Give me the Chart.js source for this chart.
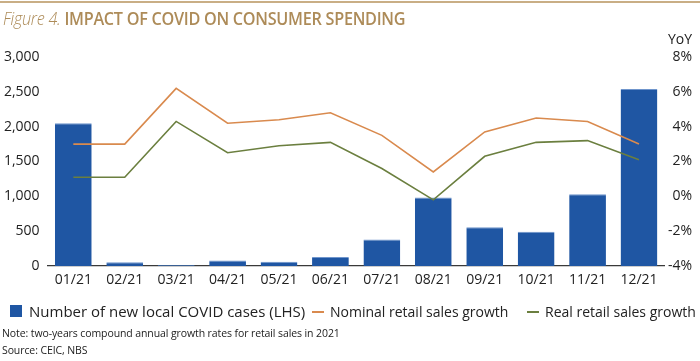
<!DOCTYPE html>
<html>
<head>
<meta charset="utf-8">
<script src="https://cdn.jsdelivr.net/npm/chart.js@4.4.1/dist/chart.umd.min.js"></script>
<style>
  html,body{margin:0;padding:0;background:#fff;}
  #wrap{position:relative;width:700px;height:361px;overflow:hidden;font-family:"Open Sans",sans-serif;color:#222;}
  #topline{position:absolute;left:0;top:1px;width:700px;height:2px;background:#c9ae85;}
  #title{position:absolute;left:3px;top:6px;font-size:18px;color:#ad8b58;white-space:nowrap;letter-spacing:-0.3px;transform:scaleX(0.9);transform-origin:0 0;}
  #title i{font-weight:300;}
  #title b{font-weight:600;}
  #yoy{position:absolute;right:8px;top:29px;font-size:14px;}
  canvas{position:absolute;left:0;top:0;}
  .leg{position:absolute;top:302px;font-size:14px;white-space:nowrap;}
  .sw{position:absolute;}
  .note{position:absolute;left:2px;font-size:10.5px;white-space:nowrap;letter-spacing:-0.1px;}
</style>
</head>
<body>
<div id="wrap">
  <canvas id="c" width="700" height="361"></canvas>
  <div id="topline"></div>
  <div id="title"><i>Figure 4.</i> <b>IMPACT OF COVID ON CONSUMER SPENDING</b></div>
  <div id="yoy">YoY</div>
  <div class="sw" style="left:10px;top:305px;width:12px;height:12px;background:#1f56a3;"></div>
  <div class="leg" style="left:29px;top:301px;font-size:15px;">Number of new local COVID cases (LHS)</div>
  <div class="sw" style="left:312px;top:311px;width:12px;height:2px;background:#d98a4e;"></div>
  <div class="leg" style="left:330px;">Nominal retail sales growth</div>
  <div class="sw" style="left:527px;top:311px;width:12px;height:2px;background:#6b7f3f;"></div>
  <div class="leg" style="left:545px;">Real retail sales growth</div>
  <div class="note" style="top:326px;">Note: two-years compound annual growth rates for retail sales in 2021</div>
  <div class="note" style="top:343px;">Source: CEIC, NBS</div>
</div>
<script>
const categories = ["01/21","02/21","03/21","04/21","05/21","06/21","07/21","08/21","09/21","10/21","11/21","12/21"];
const covidCases = [2050, 55, 15, 80, 60, 130, 380, 985, 555, 490, 1030, 2540];
const nominalGrowth = [3.0, 3.0, 6.2, 4.2, 4.4, 4.8, 3.5, 1.4, 3.7, 4.5, 4.3, 3.0];
const realGrowth = [1.1, 1.1, 4.3, 2.5, 2.9, 3.1, 1.6, -0.2, 2.3, 3.1, 3.2, 2.1];
const leftTicks = [0, 500, 1000, 1500, 2000, 2500, 3000];
const rightTicks = [-4, -2, 0, 2, 4, 6, 8];

const tickFont = {family: "Open Sans", size: 14};
new Chart(document.getElementById('c'), {
  data: {
    labels: categories,
    datasets: [
      {type:'line', label:'Nominal retail sales growth', data: nominalGrowth, yAxisID:'y1',
       borderColor:'#d98a4e', borderWidth:1.6, pointRadius:0, tension:0, order:1},
      {type:'line', label:'Real retail sales growth', data: realGrowth, yAxisID:'y1',
       borderColor:'#6b7f3f', borderWidth:1.6, pointRadius:0, tension:0, order:2},
      {type:'bar', label:'Number of new local COVID cases (LHS)', data: covidCases, yAxisID:'y',
       backgroundColor:'#1f56a3', borderColor:'#6f95cc', borderWidth:{top:1,left:0,right:0,bottom:0},
       categoryPercentage:0.715, barPercentage:1.0, order:3}
    ]
  },
  options: {
    responsive:false, animation:false, devicePixelRatio:1,
    layout:{padding:{top:57, left:0, right:8, bottom:0}},
    plugins:{legend:{display:false}, tooltip:{enabled:false}},
    scales:{
      x:{
        grid:{display:false, drawTicks:false},
        border:{display:true, color:'#3a3a3a', width:1.3},
        ticks:{font:tickFont, color:'#222', padding:6, maxRotation:0, autoSkip:false},
        afterFit(s){ s.height = 361 - 266; }
      },
      y:{
        position:'left', min:0, max:3000,
        afterBuildTicks(s){ s.ticks = leftTicks.map(v=>({value:v})); },
        grid:{display:false, drawTicks:false},
        border:{display:false},
        ticks:{font:tickFont, color:'#222', padding:8,
          callback:v=>v.toLocaleString('en-US')},
        afterFit(s){ s.width = 47.6; }
      },
      y1:{
        position:'right', min:-4, max:8,
        afterBuildTicks(s){ s.ticks = rightTicks.map(v=>({value:v})); },
        grid:{display:false, drawTicks:false},
        border:{display:false},
        ticks:{font:tickFont, color:'#222', padding:4, crossAlign:'far',
          callback:v=>v+'%'},
        afterFit(s){ s.width = 700 - 8 - 664.7; }
      }
    }
  }
});
</script>
</body>
</html>
